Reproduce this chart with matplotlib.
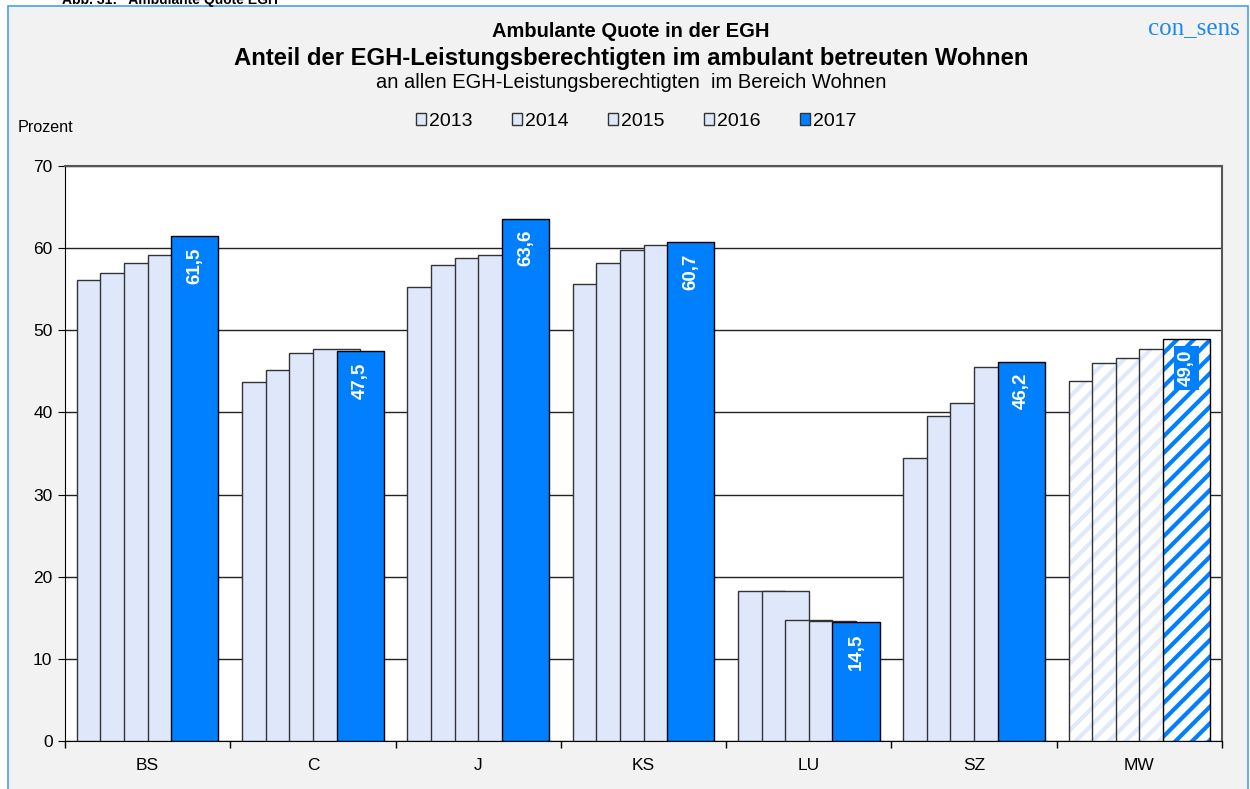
import numpy as np
import matplotlib
matplotlib.use("Agg")
import matplotlib.pyplot as plt
from matplotlib.patches import Rectangle

plt.rcParams['font.family'] = ['Liberation Sans', 'DejaVu Sans']
plt.rcParams['hatch.linewidth'] = 3.0

# --- data ---
regions = ["BS", "C", "J", "KS", "LU", "SZ", "MW"]
years = ["2013", "2014", "2015", "2016", "2017"]
v2013 = [56.1, 43.7, 55.3, 55.6, 18.3, 34.5, 43.8]
v2014 = [57.0, 45.2, 57.9, 58.2, 18.3, 39.6, 46.0]
v2015 = [58.2, 47.2, 58.8, 59.8, 14.7, 41.1, 46.6]
v2016 = [59.2, 47.7, 59.2, 60.4, 14.6, 45.5, 47.7]
v2017 = [61.5, 47.5, 63.6, 60.7, 14.5, 46.2, 49.0]
series = [v2013, v2014, v2015, v2016, v2017]

pale = "#DFE8FB"
blue = "#0080FF"
hatch_pale = "#E0E9FB"

fig = plt.figure(figsize=(12.5, 7.89), dpi=100)
fig.patch.set_facecolor("white")
fig.patches.append(Rectangle((0.0064, -0.01), 0.992, 1.0024, transform=fig.transFigure,
                             facecolor="#F2F2F2", edgecolor="#4A9EF0", lw=1.2, zorder=-10))

ax = fig.add_axes([0.052, 0.0608, 0.9776 - 0.052, 0.7896 - 0.0608])
ax.set_zorder(1)
ax.set_facecolor("white")

step = 1 / 7
x = np.arange(len(regions))
n_reg = len(regions)
for k, vals in enumerate(series):
    left = x - 0.5 + (0.5 + k) * step
    is_last = k == len(series) - 1
    for i in range(n_reg):
        mw = regions[i] == "MW"
        if mw:
            # white base + hatch + outline
            ax.bar(left[i], vals[i], width=2 * step, align="edge", color="white",
                   edgecolor="none", zorder=2 + k)
            ax.bar(left[i], vals[i], width=2 * step, align="edge", color="none",
                   edgecolor=blue if is_last else hatch_pale, hatch="//", lw=0, zorder=2 + k)
            ax.bar(left[i], vals[i], width=2 * step, align="edge", color="none",
                   edgecolor="black" if is_last else "#333333", lw=1.0, zorder=2 + k)
        else:
            ax.bar(left[i], vals[i], width=2 * step, align="edge",
                   color=blue if is_last else pale,
                   edgecolor="black" if is_last else "#333333", lw=1.0, zorder=2 + k)
        if is_last:
            lbl = f"{vals[i]:.1f}".replace(".", ",")
            bbox = dict(boxstyle="square,pad=0.2", fc=blue, ec="none") if mw else None
            ax.text(left[i] + step, vals[i] - 1.4, lbl, rotation=90, ha="center", va="top",
                    color="white", fontsize=13.5, fontweight="bold", bbox=bbox, zorder=20)

# legend proxies
handles = [Rectangle((0, 0), 1, 1, fc=pale, ec="#333333", lw=1.0) for _ in years[:-1]]
handles.append(Rectangle((0, 0), 1, 1, fc=blue, ec="#333333", lw=1.0))
fig.legend(handles, years, loc="center", bbox_to_anchor=(0.509, 0.846), ncol=5,
           frameon=False, fontsize=14, handlelength=0.55, handleheight=0.55,
           handletextpad=0.15, columnspacing=2.0)

ax.set_xlim(-0.5, n_reg - 0.5)
ax.set_ylim(0, 70)
ax.set_yticks(np.arange(0, 71, 10))
ax.set_xticks(x)
ax.set_xticklabels(regions)
ax.set_xticks(np.arange(-0.5, n_reg, 1), minor=True)
ax.tick_params(axis="x", which="major", length=0, pad=12, labelsize=12.5)
ax.tick_params(axis="x", which="minor", length=5, direction="out", width=1)
ax.tick_params(axis="y", length=5, direction="out", labelsize=12.5, pad=4)
ax.grid(axis="y", color="#222222", lw=1.0, zorder=1)
ax.set_axisbelow(True)
for s in ["left", "bottom"]:
    ax.spines[s].set_color("black")
for s in ["top", "right"]:
    ax.spines[s].set_color("#555555")
    ax.spines[s].set_linewidth(1.5)

# texts
fig.text(0.05, 1.0, "Abb. 31:   Ambulante Quote EGH", ha="left", va="center",
         fontsize=10, fontweight="bold")
fig.text(0.505, 0.960, "Ambulante Quote in der EGH", ha="center", va="center",
         fontsize=14.5, fontweight="bold")
fig.text(0.505, 0.926, "Anteil der EGH-Leistungsberechtigten im ambulant betreuten Wohnen",
         ha="center", va="center", fontsize=17.2, fontweight="bold")
fig.text(0.505, 0.895, "an allen EGH-Leistungsberechtigten  im Bereich Wohnen",
         ha="center", va="center", fontsize=14.5)
fig.text(0.014, 0.838, "Prozent", ha="left", va="center", fontsize=11.6)
fig.text(0.992, 0.964, "con_sens", ha="right", va="center", fontsize=18,
         color="#1E88F0", family="Liberation Serif")

fig.savefig("out.png", dpi=100, facecolor=fig.get_facecolor())
